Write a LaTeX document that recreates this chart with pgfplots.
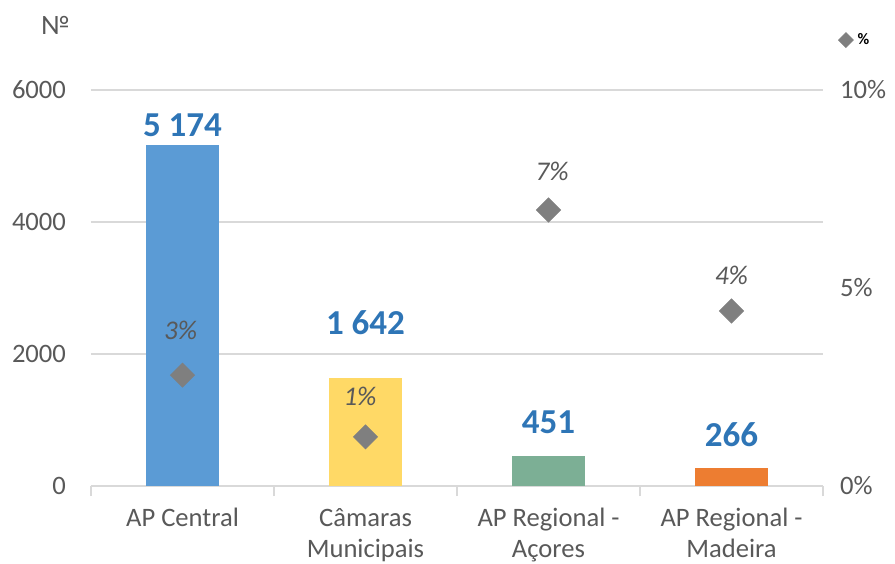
\documentclass[border=0pt]{standalone}
\usepackage{fontspec}
\setmainfont{Carlito}
\usepackage{pgfplots}
\pgfplotsset{compat=1.18}
\definecolor{gridgray}{HTML}{D9D9D9}
\definecolor{ticktext}{HTML}{595959}
\definecolor{barblue}{HTML}{5B9BD5}
\definecolor{baryellow}{HTML}{FFD966}
\definecolor{bargreen}{HTML}{7CAF95}
\definecolor{barorange}{HTML}{ED7D31}
\definecolor{labelblue}{HTML}{2E75B6}
\definecolor{diamgray}{HTML}{7F7F7F}
\definecolor{pcttext}{HTML}{595959}
\begin{document}
\begin{tikzpicture}[x=1pt,y=1pt]
\useasboundingbox (-45.5,-38.5) rectangle (402,243);
\begin{axis}[
  at={(0,0)}, anchor=south west, scale only axis,
  width=366pt, height=198pt,
  xmin=-0.5, xmax=3.5, ymin=0, ymax=6000,
  ytick={0,2000,4000,6000},
  ymajorgrids, grid style={color=gridgray, line width=0.8pt},
  axis x line*=bottom, axis y line*=left,
  y axis line style={draw=none},
  x axis line style={color=gridgray, line width=0.8pt},
  major tick length=0pt,
  xtick={0,1,2,3},
  xticklabels={AP Central, Câmaras\\Municipais, AP Regional -\\Açores, AP Regional -\\Madeira},
  xticklabel style={align=center, font=\fontsize{13.3}{15.5}\selectfont, text=ticktext, yshift=-7.5pt},
  yticklabel style={font=\fontsize{13.3}{16}\selectfont, text=ticktext, xshift=-9pt},
  /pgf/number format/assume math mode=true,
  /pgf/number format/1000 sep={},
  extra x ticks={-0.5,0.5,1.5,2.5,3.5},
  extra x tick labels={},
  extra x tick style={grid=none, major tick length=5pt, tick align=outside, tick style={color=gridgray, line width=0.8pt}},
  ybar, bar width=0.4, bar shift=0pt,
  clip=false,
]
\addplot[fill=barblue, draw=none] coordinates {(0,5174)};
\addplot[fill=baryellow, draw=none] coordinates {(1,1642)};
\addplot[fill=bargreen, draw=none] coordinates {(2,451)};
\addplot[fill=barorange, draw=none] coordinates {(3,266)};
\node[font=\bfseries\fontsize{17.5}{20}\selectfont, text=labelblue] at (axis cs:0,5470) {5 174};
\node[font=\bfseries\fontsize{17.5}{20}\selectfont, text=labelblue] at (axis cs:1,2470) {1 642};
\node[font=\bfseries\fontsize{17.5}{20}\selectfont, text=labelblue] at (axis cs:2,970) {451};
\node[font=\bfseries\fontsize{17.5}{20}\selectfont, text=labelblue] at (axis cs:3,773) {266};
\node[anchor=east, font=\fontsize{14}{16}\selectfont, text=ticktext] at (rel axis cs:0,1.164) [xshift=-7pt] {№};
\end{axis}
\begin{axis}[
  at={(0,0)}, anchor=south west, scale only axis,
  width=366pt, height=198pt,
  xmin=-0.5, xmax=3.5, ymin=0, ymax=10,
  axis x line=none,
  axis y line*=right,
  y axis line style={draw=none},
  major tick length=0pt,
  ytick={0,5,10},
  yticklabels={0\%,5\%,10\%},
  yticklabel style={font=\fontsize{13.3}{16}\selectfont, text=ticktext, xshift=5pt},
  clip=false,
  legend style={draw=none, fill=none, at={(rel axis cs:1.012,1.126)}, anchor=west, font=\bfseries\fontsize{8}{10}\selectfont},
  legend image code/.code={\fill[diamgray, rotate=45] (-2.6pt,-2.6pt) rectangle (2.6pt,2.6pt);},
]
\addplot[only marks, mark=square*, mark size=4.25pt, color=diamgray, mark options={rotate=45, fill=diamgray, draw=diamgray}] coordinates {(0,2.80) (1,1.24) (2,6.97) (3,4.42)};
\addlegendentry{\%}
\node[font=\itshape\fontsize{13.5}{16}\selectfont, text=pcttext] at (axis cs:-0.01,3.94) {3\%};
\node[font=\itshape\fontsize{13.5}{16}\selectfont, text=pcttext] at (axis cs:0.97,2.25) {1\%};
\node[font=\itshape\fontsize{13.5}{16}\selectfont, text=pcttext] at (axis cs:2.02,7.95) {7\%};
\node[font=\itshape\fontsize{13.5}{16}\selectfont, text=pcttext] at (axis cs:3.0,5.33) {4\%};
\end{axis}
\end{tikzpicture}
\end{document}
